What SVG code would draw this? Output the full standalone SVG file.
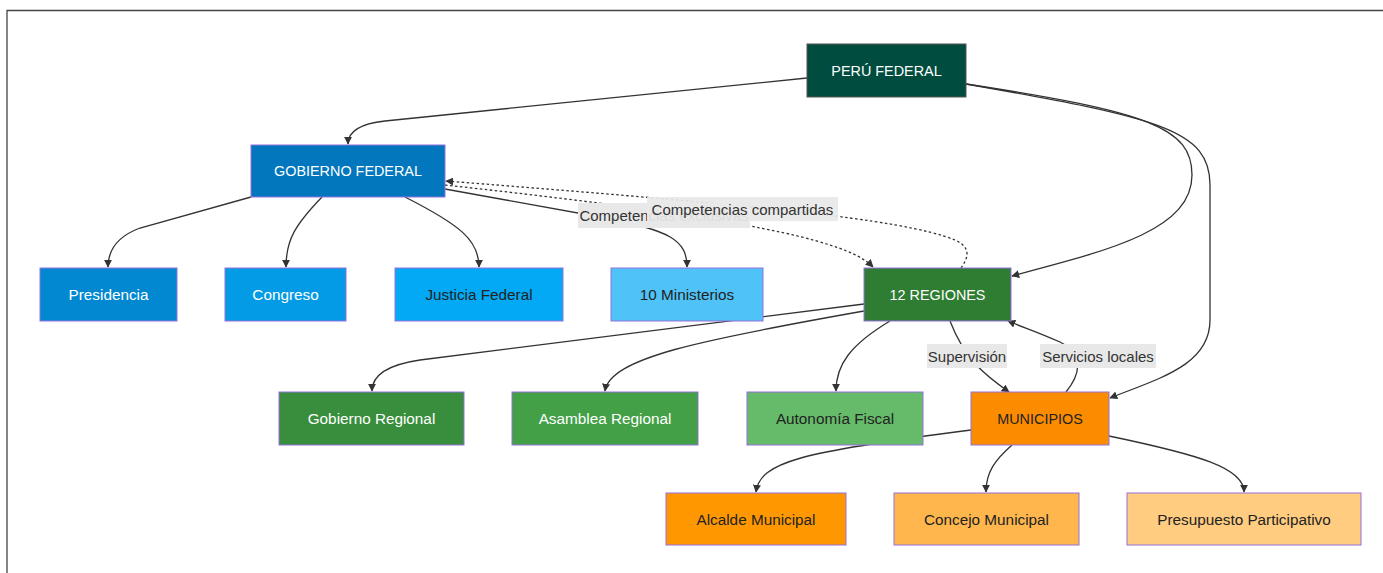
<svg xmlns="http://www.w3.org/2000/svg" width="1383" height="573" viewBox="0 0 1383 573">
<defs>
<style>
.n rect{stroke:#9370DB;stroke-width:1}
.n text{font-family:"Liberation Sans",Arial,sans-serif;font-size:15.3px;text-anchor:middle;dominant-baseline:central}
.n text.c{font-size:14.4px}
.w{fill:#ffffff}
.b{fill:#222222}
.e{fill:none;stroke:#333333;stroke-width:1.3}
.d{stroke-dasharray:2.5 2.5}
.lb{fill:#e8e8e8;opacity:0.93}
.lt{font-family:"Liberation Sans",Arial,sans-serif;font-size:15px;fill:#333333;text-anchor:middle;dominant-baseline:central}
</style>
<marker id="ah" viewBox="0 0 10 10" refX="9" refY="5" markerWidth="8" markerHeight="8" markerUnits="userSpaceOnUse" orient="auto">
<path d="M0,0 L10,5 L0,10 z" fill="#333333"/>
</marker>
</defs>
<rect x="0" y="0" width="1383" height="573" fill="#ffffff"/>
<path d="M7,573 L7,10.5 L1383,10.5" fill="none" stroke="#444444" stroke-width="1.3"/>

<g id="connectors">
<path class="e" d="M807,78 L385,121 Q348,125 348,144" marker-end="url(#ah)"/>
<path class="e" d="M966,84 C1150,112 1192,128 1192,175 C1192,230 1110,250 1012,276" marker-end="url(#ah)"/>
<path class="e" d="M966,84 C1160,118 1210,130 1210,185 L1210,320 C1210,365 1160,378 1110,398" marker-end="url(#ah)"/>
<path class="e" d="M251,197 L140,228 Q108,240 108,267" marker-end="url(#ah)"/>
<path class="e" d="M322,197 C295,225 286,240 286,267" marker-end="url(#ah)"/>
<path class="e" d="M405,197 C460,225 479,240 479,267" marker-end="url(#ah)"/>
<path class="e" d="M445,189 L600,217 C670,230 687,240 687,267" marker-end="url(#ah)"/>
<path class="e d" d="M445,185 C600,202 760,222 830,245 C855,253 866,260 873,267" marker-end="url(#ah)"/>
<path class="e d" d="M961,268 C968,258 972,248 955,240 C900,218 750,205 446,181" marker-end="url(#ah)"/>
<path class="e" d="M864,304 L420,360 Q372,367 372,391" marker-end="url(#ah)"/>
<path class="e" d="M864,311 C700,340 610,358 605,391" marker-end="url(#ah)"/>
<path class="e" d="M890,321 C850,345 836,365 836,391" marker-end="url(#ah)"/>
<path class="e" d="M950,321 C965,360 985,375 1009,392" marker-end="url(#ah)"/>
<path class="e" d="M1066,392 C1080,375 1085,355 1060,342 C1040,333 1025,328 1008,321" marker-end="url(#ah)"/>
<path class="e" d="M971,430 C800,452 760,462 756,492" marker-end="url(#ah)"/>
<path class="e" d="M1012,445 C995,460 986,472 986,492" marker-end="url(#ah)"/>
<path class="e" d="M1109,436 C1200,455 1244,468 1244,492" marker-end="url(#ah)"/>
<g id="edge-labels">
<rect class="lb" x="578" y="203" width="172" height="25" style="opacity:1"/>
<text class="lt" x="664" y="215.5">Competencias exclusivas</text>
<rect class="lb" x="647" y="197" width="191" height="24"/>
<text class="lt" x="742.5" y="209">Competencias compartidas</text>
<rect class="lb" x="927" y="344" width="80" height="24" style="opacity:1"/>
<text class="lt" x="967" y="356">Supervisión</text>
<rect class="lb" x="1040" y="344" width="116" height="24" style="opacity:1"/>
<text class="lt" x="1098" y="356">Servicios locales</text>
</g>
</g>

<g id="peru" class="n"><rect x="807" y="44" width="159" height="53" fill="#004D40" style="stroke:#555555"/><text class="w c" x="886.5" y="70.5">PERÚ FEDERAL</text></g>
<g id="gobierno" class="n"><rect x="251" y="145" width="194" height="52" fill="#0277BD"/><text class="w c" x="348" y="171">GOBIERNO FEDERAL</text></g>
<g id="presidencia" class="n"><rect x="40" y="268" width="137" height="53" fill="#0288D1"/><text class="w" x="108.5" y="294.5">Presidencia</text></g>
<g id="congreso" class="n"><rect x="225" y="268" width="121" height="53" fill="#039BE5"/><text class="w" x="285.5" y="294.5">Congreso</text></g>
<g id="justicia" class="n"><rect x="395" y="268" width="168" height="53" fill="#03A9F4"/><text class="b" x="479" y="294.5">Justicia Federal</text></g>
<g id="ministerios" class="n"><rect x="611" y="268" width="152" height="53" fill="#4FC3F7"/><text class="b" x="687" y="294.5">10 Ministerios</text></g>
<g id="regiones" class="n"><rect x="864" y="268" width="147" height="53" fill="#2E7D32"/><text class="w c" x="937.5" y="294.5">12 REGIONES</text></g>
<g id="gobregional" class="n"><rect x="279" y="392" width="185" height="53" fill="#388E3C"/><text class="w" x="371.5" y="418.5">Gobierno Regional</text></g>
<g id="asamblea" class="n"><rect x="512" y="392" width="186" height="53" fill="#43A047"/><text class="w" x="605" y="418.5">Asamblea Regional</text></g>
<g id="autonomia" class="n"><rect x="747" y="392" width="176" height="53" fill="#66BB6A"/><text class="b" x="835" y="418.5">Autonomía Fiscal</text></g>
<g id="municipios" class="n"><rect x="971" y="392" width="138" height="53" fill="#FB8C00"/><text class="b c" x="1040" y="418.5">MUNICIPIOS</text></g>
<g id="alcalde" class="n"><rect x="666" y="493" width="180" height="52" fill="#FF9800"/><text class="b" x="756" y="519">Alcalde Municipal</text></g>
<g id="concejo" class="n"><rect x="894" y="493" width="185" height="52" fill="#FFB74D"/><text class="b" x="986.5" y="519">Concejo Municipal</text></g>
<g id="presupuesto" class="n"><rect x="1127" y="493" width="234" height="52" fill="#FFCC80"/><text class="b" x="1244" y="519">Presupuesto Participativo</text></g>
</svg>
